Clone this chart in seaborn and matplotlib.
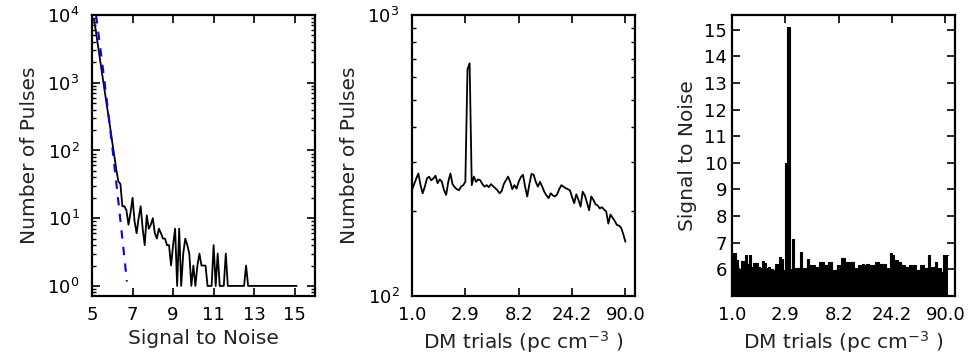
import numpy as np
import pandas as pd
import matplotlib
matplotlib.use("Agg")
import matplotlib.pyplot as plt
import matplotlib.ticker as mticker
import seaborn as sns

# ---------------- data ----------------
# Panel 1: pulse counts per S/N bin (bins of 0.1 starting at 5.1)
snr_start = 5.1
snr_step = 0.1
pulse_counts = [
    8700, 5500, 3450, 2150, 1350, 850, 535, 340, 215, 132,
    83, 52, 35, 32, 15, 15, 13, 8, 12, 20,
    9, 6, 10, 15, 7, 4, 11, 7, 8, 10,
    6, 5, 7, 6, 5, 5, 4, 4, 2, 4,
    7, 1, 7, 1, 3, 5, 4, 3, 1, 2,
    1, 2, 3, 2, 2, 2, 1, 1, 1, 4,
    1, 3, 1, 1, 1, 3, 1, 1, 1, 1,
    1, 1, 1, 1, 1, 2, 1, 1, 1, 1,
    1, 1, 1, 1, 1, 1, 1, 1, 1, 1,
    1, 1, 1, 1, 1, 1, 1, 1, 1, 1, 1,
]
# Gaussian-noise fit (blue dashed)
fit_snr = [5.2, 5.4, 5.6, 5.8, 6.0, 6.2, 6.4, 6.6, 6.72]
fit_counts = [9950, 3450, 1150, 367, 113, 33, 9.4, 2.6, 1.16]

# Panel 2: number of pulses per DM trial
dm_pulses = [
    238, 250, 262, 273, 248, 232, 245, 262, 266, 258,
    262, 268, 252, 260, 255, 238, 229, 255, 273, 250,
    244, 240, 238, 245, 248, 255, 640, 673, 248, 266,
    255, 260, 258, 250, 245, 248, 244, 250, 246, 242,
    238, 232, 236, 250, 258, 266, 255, 240, 248, 241,
    255, 265, 270, 245, 226, 250, 272, 270, 255, 245,
    255, 245, 235, 228, 223, 232, 228, 226, 230, 240,
    248, 245, 242, 240, 238, 225, 214, 230, 220, 208,
    235, 228, 215, 202, 226, 220, 212, 210, 205, 207,
    203, 200, 181, 195, 190, 185, 179, 178, 175, 166,
    156,
]

# Panel 3: maximum S/N per DM trial
dm_snr = [
    6.6, 6.6, 6.35, 6.0, 6.3, 6.3, 6.55, 6.2, 6.55, 6.1,
    6.25, 6.25, 6.1, 6.05, 6.3, 6.25, 6.04, 6.1, 6.0, 5.97,
    6.2, 6.2, 6.45, 6.4, 5.97, 10.0, 15.1, 6.0, 7.15, 6.04,
    6.04, 6.04, 6.65, 6.04, 6.04, 6.4, 6.16, 6.16, 6.16, 6.1,
    6.1, 6.29, 6.29, 6.16, 6.16, 6.29, 6.29, 5.97, 5.97, 6.16,
    6.16, 6.41, 6.41, 6.29, 6.29, 6.29, 6.29, 6.04, 6.04, 6.16,
    6.16, 6.22, 6.16, 6.22, 6.16, 6.16, 6.16, 6.29, 6.29, 6.22,
    6.22, 6.22, 6.04, 6.04, 6.6, 6.54, 6.35, 6.35, 6.29, 6.16,
    6.16, 6.1, 6.1, 6.16, 6.16, 6.16, 5.97, 5.97, 6.16, 6.16,
    6.04, 6.04, 6.54, 6.1, 6.1, 6.29, 6.04, 6.04, 5.91, 6.54,
    6.54,
]

dm_tick_labels = ["1.0", "2.9", "8.2", "24.2", "90.0"]
dm_tick_pos = [0, 25, 50, 75, 100]

# ---------------- style ----------------
sns.set_style("ticks", {
    "xtick.direction": "in", "ytick.direction": "in",
    "xtick.top": True, "ytick.right": True,
    "axes.edgecolor": "black",
})
plt.rcParams["font.family"] = ["DejaVu Sans"]
plt.rcParams.update({
    "xtick.major.size": 6, "ytick.major.size": 6,
    "xtick.minor.size": 3, "ytick.minor.size": 3,
    "xtick.major.width": 1.2, "ytick.major.width": 1.2,
    "xtick.minor.width": 1.0, "ytick.minor.width": 1.0,
    "axes.linewidth": 1.6,
    "xtick.labelsize": 13, "ytick.labelsize": 13,
    "axes.labelsize": 14.5,
    "xtick.color": "black", "ytick.color": "black",
    "axes.labelcolor": "#222222",
})

fig = plt.figure(figsize=(9.75, 3.54), dpi=100)
W, H = 975.0, 354.0
bottom = 1 - 296 / H
height = (296 - 15) / H
width = 223 / W
ax1 = fig.add_axes([92 / W, bottom, width, height])
ax2 = fig.add_axes([412 / W, bottom, width, height])
ax3 = fig.add_axes([732 / W, bottom, width, height])

# ---- panel 1 ----
snr_bins = [round(snr_start + snr_step * i, 2) for i in range(len(pulse_counts))]
df1 = pd.DataFrame({"snr": snr_bins, "count": pulse_counts})
sns.lineplot(data=df1, x="snr", y="count", color="black", linewidth=1.3, ax=ax1)
sns.lineplot(x=fit_snr, y=fit_counts, color="blue", linewidth=1.5, ax=ax1,
             linestyle=(0, (4, 4)))
ax1.set_yscale("log")
ax1.set_xlim(5, 16)
ax1.set_ylim(0.71, 1e4)
ax1.set_xticks([5, 7, 9, 11, 13, 15])
ax1.set_xlabel("Signal to Noise")
ax1.set_ylabel("Number of Pulses", labelpad=6)
ax1.yaxis.set_minor_locator(mticker.LogLocator(base=10, subs=np.arange(2, 10)))

# ---- panel 2 ----
dm_idx = list(range(len(dm_pulses)))
df2 = pd.DataFrame({"trial": dm_idx, "pulses": dm_pulses})
sns.lineplot(data=df2, x="trial", y="pulses", color="black", linewidth=1.3, ax=ax2)
ax2.set_yscale("log")
ax2.set_ylim(100, 1000)
ax2.set_xlim(0, 104.5)
ax2.set_xticks(dm_tick_pos)
ax2.set_xticklabels(dm_tick_labels)
ax2.yaxis.set_minor_locator(mticker.LogLocator(base=10, subs=np.arange(2, 10)))
ax2.yaxis.set_minor_formatter(mticker.NullFormatter())
ax2.set_xlabel(r"DM trials (pc cm$^{-3}$ )")
ax2.set_ylabel("Number of Pulses", labelpad=6)

# ---- panel 3 (filled step outline) ----
step_x = list(range(len(dm_snr))) + [len(dm_snr)]
step_y = dm_snr + [dm_snr[-1]]
sns.lineplot(x=step_x, y=step_y, color="black", linewidth=0.8,
             drawstyle="steps-post", ax=ax3)
ax3.fill_between(step_x, step_y, 0, step="post", color="black",
                 linewidth=0, antialiased=False)
ax3.set_xlim(0, 104.5)
ax3.set_ylim(5.0, 15.55)
ax3.set_yticks(list(range(6, 16)))
ax3.set_xticks(dm_tick_pos)
ax3.set_xticklabels(dm_tick_labels)
ax3.set_xlabel(r"DM trials (pc cm$^{-3}$ )")
ax3.set_ylabel("Signal to Noise", labelpad=5)

for ax in (ax1, ax2, ax3):
    ax.tick_params(which="both", top=True, right=True, direction="in")
    ax.tick_params(axis="x", pad=7)
    for s in ax.spines.values():
        s.set_visible(True)
        s.set_color("black")
for ax in (ax1, ax2):
    ax.tick_params(axis="y", which="major", pad=9)

fig.savefig("out.png", dpi=100)
